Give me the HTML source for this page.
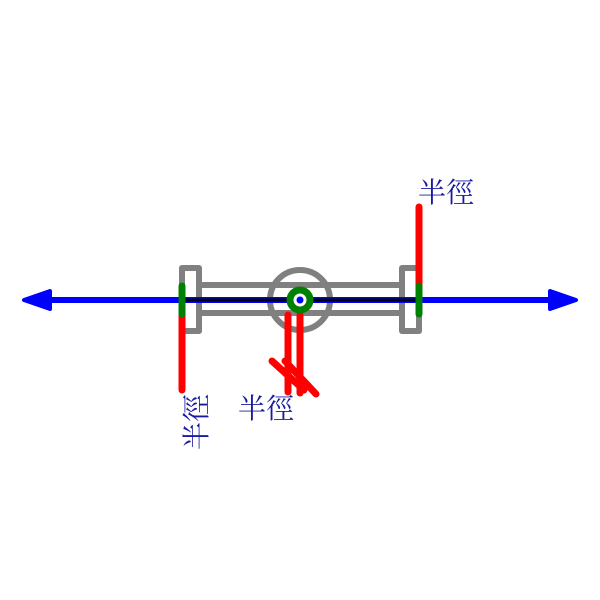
<!DOCTYPE html>
<html><head><style>body{margin:0;background:#fff}svg{display:block}</style></head><body>
<svg width="600" height="600" viewBox="0 0 600 600" xmlns="http://www.w3.org/2000/svg">
<g fill="none" stroke="#808080" stroke-width="6" stroke-linejoin="round">
<rect x="182" y="268" width="17" height="63"/>
<rect x="402" y="268" width="17" height="63"/>
<line x1="199" y1="285" x2="402" y2="285"/>
<line x1="199" y1="313" x2="402" y2="313"/>
<circle cx="300" cy="300" r="30"/>
</g>
<line x1="45" y1="300" x2="555" y2="300" stroke="#0000ff" stroke-width="6"/>
<path d="M24 300 L50 291 L50 309 Z" fill="#0000ff" stroke="#0000ff" stroke-width="4" stroke-linejoin="round"/>
<path d="M576 300 L550 291 L550 309 Z" fill="#0000ff" stroke="#0000ff" stroke-width="4" stroke-linejoin="round"/>
<line x1="182" y1="300" x2="418" y2="300" stroke="#000" stroke-width="3"/>
<g stroke="#ff0000" stroke-width="7" stroke-linecap="round">
<line x1="182" y1="315" x2="182" y2="390"/>
<line x1="419" y1="207" x2="419" y2="285"/>
<line x1="288" y1="315" x2="288" y2="392"/>
<line x1="300" y1="315" x2="300" y2="393"/>
<line x1="272" y1="361" x2="304" y2="390"/>
<line x1="285" y1="361" x2="316" y2="394"/>
</g>
<g stroke="#008000" stroke-width="7" stroke-linecap="round">
<line x1="182" y1="286" x2="182" y2="314"/>
<line x1="419" y1="286" x2="419" y2="314"/>
</g>
<circle cx="300" cy="300" r="10" fill="#fff" stroke="#008000" stroke-width="7"/>
<circle cx="300" cy="300" r="3.5" fill="#0000ff"/>
<g font-family="Liberation Serif, Noto Serif CJK SC, serif" font-size="28" fill="#1a1aa0">
<text x="418" y="202">半徑</text>
<text x="238" y="418">半徑</text>
<text transform="translate(206,450) rotate(-90)">半徑</text>
</g>
</svg>
</body></html>
